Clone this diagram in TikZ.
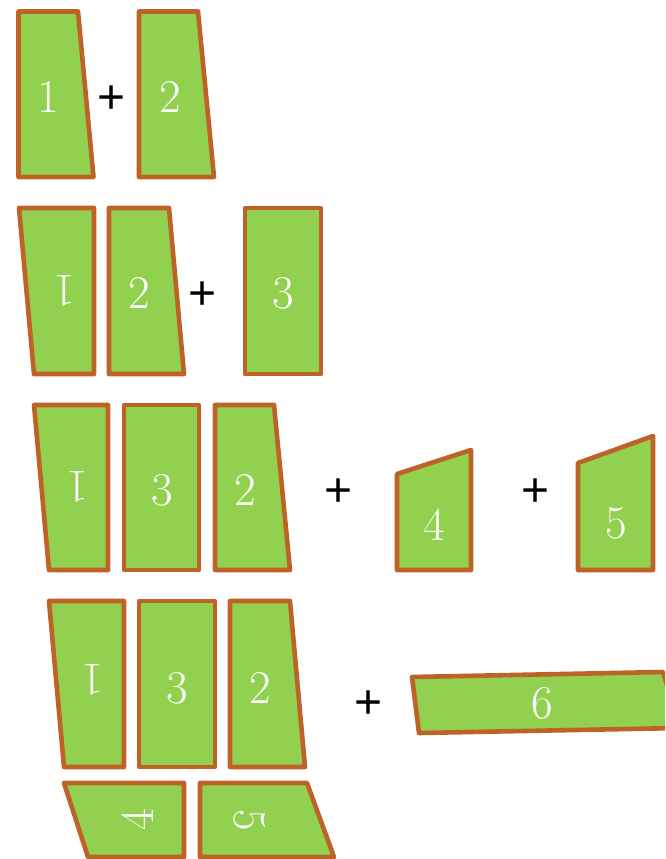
\documentclass[tikz,border=0pt]{standalone}
\usepackage{fontspec}
\newfontfamily\plusfont{Liberation Sans}
\definecolor{piecefill}{HTML}{92D050}
\definecolor{piecedraw}{HTML}{BE6228}
\tikzset{
  piece/.style={fill=piecefill, draw=piecedraw, line width=4.6pt, line join=round},
  lab/.style={text=white, font=\fontsize{47}{47}\selectfont, inner sep=0pt},
  plus/.style={text=black, font=\plusfont\fontsize{48}{48}\selectfont, inner sep=0pt, yshift=-3pt}
}
\begin{document}
\begin{tikzpicture}[x=1pt,y=-1pt]
\useasboundingbox (0,0) rectangle (665,859);
\clip (0,0) rectangle (665,859);
% row 1
\draw[piece] (18.5,11.5) -- (78,11.5) -- (93.5,177) -- (18.5,177) -- cycle;
\draw[piece] (139,11.5) -- (198,11.5) -- (214,177) -- (139,177) -- cycle;
\node[lab] (r1a) at (48,97) {1};
\node[lab] (r1b) at (170,97) {2};
\node[plus] (r1p) at (112,97) {+};
% row 2
\draw[piece] (19,208) -- (94,208) -- (94,374) -- (34,374) -- cycle;
\draw[piece] (109,208) -- (169,208) -- (184,374) -- (109,374) -- cycle;
\draw[piece] (245,208) rectangle (321,374);
\node[lab, rotate=180] (r2a) at (65,291) {1};
\node[lab] (r2b) at (139,293) {2};
\node[lab] (r2c) at (283,293) {3};
\node[plus] (r2p) at (203,293) {+};
% row 3
\draw[piece] (34,405) -- (108,405) -- (108,570) -- (49,570) -- cycle;
\draw[piece] (124,405) rectangle (199,570);
\draw[piece] (215,405) -- (274,405) -- (290,570) -- (215,570) -- cycle;
\draw[piece] (397,474) -- (471,450) -- (471,570) -- (397,570) -- cycle;
\draw[piece] (578,463) -- (653,436) -- (653,570) -- (578,570) -- cycle;
\node[lab, rotate=180] (r3a) at (78,487) {1};
\node[lab] (r3b) at (162,490) {3};
\node[lab] (r3c) at (245,490) {2};
\node[lab] (r3d) at (434,525) {4};
\node[lab] (r3e) at (616,523) {5};
\node[plus] (r3p) at (339,490) {+};
\node[plus] (r3q) at (536,490) {+};
% row 4
\draw[piece] (49,601) -- (124,601) -- (124,767) -- (64,767) -- cycle;
\draw[piece] (139,601) rectangle (215,767);
\draw[piece] (230,601) -- (290,601) -- (305,767) -- (230,767) -- cycle;
\draw[piece] (412,677) -- (663,672) -- (680,728) -- (419,733) -- cycle;
\draw[piece] (64,783) -- (184,783) -- (184,857) -- (88,857) -- cycle;
\draw[piece] (200,783) -- (307,783) -- (334,857) -- (200,857) -- cycle;
\node[lab, rotate=180] (r4a) at (93,680) {1};
\node[lab] (r4b) at (177,688) {3};
\node[lab] (r4c) at (260,688) {2};
\node[lab] (r4d) at (542,703) {6};
\node[lab, rotate=90] (r4e) at (138,820) {4};
\node[lab, rotate=-90] (r4f) at (250,820) {5};
\node[plus] (r4p) at (369,702) {+};
\end{tikzpicture}
\end{document}
